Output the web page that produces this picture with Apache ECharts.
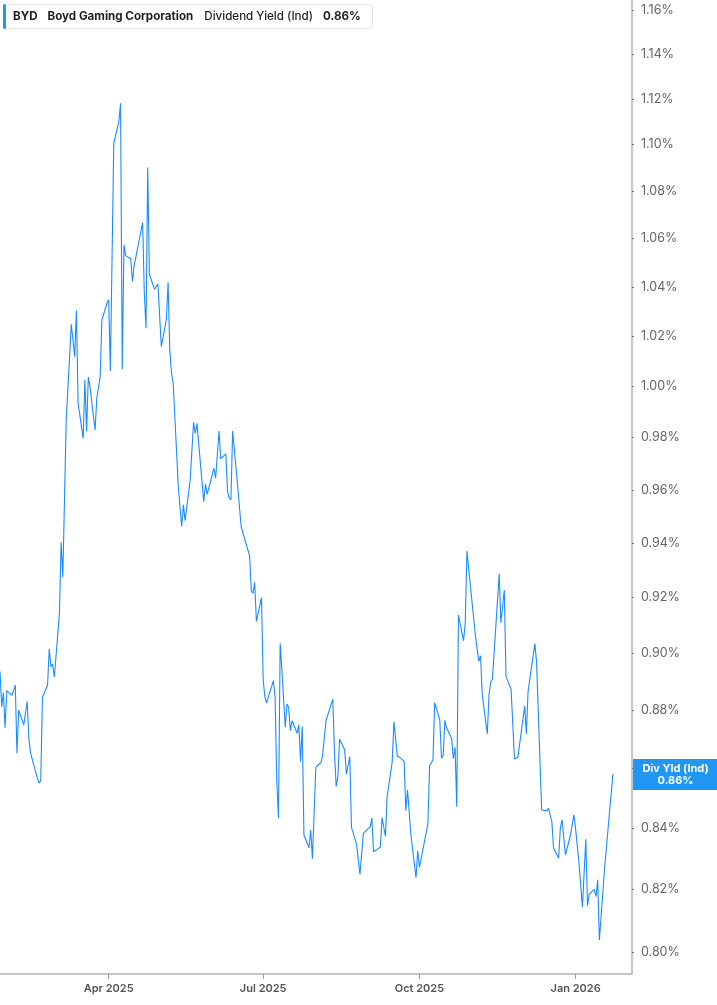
<!DOCTYPE html>
<html>
<head>
<meta charset="utf-8">
<script src="https://cdn.jsdelivr.net/npm/echarts@6/dist/echarts.min.js"></script>
<style>
  html, body { margin: 0; padding: 0; background: #fff; }
  #chart { width: 717px; height: 1005px; }
</style>
</head>
<body>
<div id="chart"></div>
<script>
const tickerSymbol = 'BYD';
const companyName = 'Boyd Gaming Corporation';
const metricName = 'Dividend Yield (Ind)';
const metricShort = 'Div Yld (Ind)';

const dates = [
  '2025-01-27','2025-01-28','2025-01-29','2025-01-30','2025-01-31','2025-02-03','2025-02-05','2025-02-06','2025-02-07','2025-02-10',
  '2025-02-12','2025-02-13','2025-02-14','2025-02-18','2025-02-19','2025-02-20','2025-02-21','2025-02-24','2025-02-25','2025-02-26',
  '2025-02-27','2025-02-28','2025-03-03','2025-03-04','2025-03-05','2025-03-07','2025-03-10','2025-03-12','2025-03-13','2025-03-14',
  '2025-03-17','2025-03-18','2025-03-19','2025-03-20','2025-03-21','2025-03-24','2025-03-25','2025-03-26','2025-03-27','2025-03-28',
  '2025-03-31','2025-04-01','2025-04-02','2025-04-04','2025-04-07','2025-04-08','2025-04-09','2025-04-10','2025-04-11','2025-04-14',
  '2025-04-15','2025-04-16','2025-04-21','2025-04-22','2025-04-23','2025-04-24','2025-04-25','2025-04-28','2025-04-30','2025-05-01',
  '2025-05-02','2025-05-05','2025-05-06','2025-05-07','2025-05-08','2025-05-09','2025-05-12','2025-05-14','2025-05-15','2025-05-16',
  '2025-05-19','2025-05-21','2025-05-22','2025-05-23','2025-05-27','2025-05-28','2025-05-29','2025-06-02','2025-06-03','2025-06-05',
  '2025-06-06','2025-06-09','2025-06-10','2025-06-11','2025-06-12','2025-06-13','2025-06-16','2025-06-18','2025-06-23','2025-06-24',
  '2025-06-25','2025-06-26','2025-06-27','2025-06-30','2025-07-01','2025-07-02','2025-07-03','2025-07-07','2025-07-08','2025-07-09',
  '2025-07-10','2025-07-11','2025-07-12','2025-07-14','2025-07-15','2025-07-16','2025-07-17','2025-07-18','2025-07-21','2025-07-22',
  '2025-07-23','2025-07-24','2025-07-25','2025-07-28','2025-07-29','2025-07-30','2025-08-01','2025-08-04','2025-08-05','2025-08-06',
  '2025-08-07','2025-08-11','2025-08-12','2025-08-13','2025-08-14','2025-08-15','2025-08-18','2025-08-19','2025-08-21','2025-08-22',
  '2025-08-25','2025-08-27','2025-08-29','2025-09-02','2025-09-03','2025-09-04','2025-09-08','2025-09-09','2025-09-10','2025-09-11',
  '2025-09-12','2025-09-15','2025-09-16','2025-09-18','2025-09-20','2025-09-22','2025-09-23','2025-09-24','2025-09-25','2025-09-26',
  '2025-09-29','2025-09-30','2025-10-01','2025-10-02','2025-10-06','2025-10-07','2025-10-08','2025-10-09','2025-10-10','2025-10-13',
  '2025-10-14','2025-10-15','2025-10-16','2025-10-17','2025-10-20','2025-10-21','2025-10-22','2025-10-23','2025-10-24','2025-10-27',
  '2025-10-28','2025-10-29','2025-11-03','2025-11-04','2025-11-05','2025-11-06','2025-11-07','2025-11-10','2025-11-11','2025-11-12',
  '2025-11-13','2025-11-17','2025-11-18','2025-11-20','2025-11-21','2025-11-24','2025-11-26','2025-11-28','2025-12-02','2025-12-03',
  '2025-12-04','2025-12-08','2025-12-09','2025-12-12','2025-12-15','2025-12-16','2025-12-18','2025-12-19','2025-12-22','2025-12-23',
  '2025-12-24','2025-12-26','2025-12-29','2025-12-31','2026-01-01','2026-01-03','2026-01-05','2026-01-07','2026-01-08','2026-01-09',
  '2026-01-12','2026-01-13','2026-01-14','2026-01-15','2026-01-18','2026-01-21','2026-01-22','2026-01-23'
];

const yieldPct = [
  0.8936,0.8813,0.8862,0.8740,0.8869,0.8852,0.8888,0.8653,0.8801,0.8750,
  0.8831,0.8704,0.8653,0.8568,0.8551,0.8560,0.8846,0.8888,0.9016,0.8953,
  0.8962,0.8916,0.9144,0.9403,0.9275,0.9868,1.0248,1.0118,1.0302,0.9934,
  0.9797,1.0025,0.9823,1.0036,0.9998,0.9829,0.9953,0.9949,1.0038,1.0265,
  1.0333,1.0347,1.0061,1.1006,1.1101,1.1181,1.0068,1.0573,1.0529,1.0516,
  1.0422,1.0488,1.0667,1.0374,1.0232,1.0901,1.0452,1.0390,1.0412,1.0408,
  1.0158,1.0268,1.0419,1.0145,1.0052,1.0012,0.9612,0.9462,0.9543,0.9484,
  0.9637,0.9859,0.9816,0.9855,0.9555,0.9622,0.9583,0.9682,0.9644,0.9825,
  0.9718,0.9737,0.9593,0.9570,0.9562,0.9825,0.9612,0.9462,0.9353,0.9225,
  0.9216,0.9256,0.9114,0.9200,0.8907,0.8848,0.8825,0.8904,0.8848,0.8562,
  0.8434,0.9036,0.8942,0.8742,0.8822,0.8811,0.8730,0.8764,0.8721,0.8750,
  0.8624,0.8744,0.8378,0.8336,0.8394,0.8300,0.8605,0.8621,0.8645,0.8644,
  0.8765,0.8839,0.8653,0.8540,0.8573,0.8701,0.8664,0.8581,0.8641,0.8403,
  0.8347,0.8249,0.8384,0.8405,0.8434,0.8323,0.8338,0.8436,0.8441,0.8373,
  0.8506,0.8624,0.8761,0.8644,0.8636,0.8624,0.8459,0.8529,0.8523,0.8378,
  0.8238,0.8326,0.8272,0.8272,0.8414,0.8609,0.8612,0.8630,0.8827,0.8768,
  0.8636,0.8644,0.8766,0.8740,0.8703,0.8635,0.8673,0.8472,0.9137,0.9045,
  0.9108,0.9371,0.9062,0.9066,0.8972,0.8992,0.8856,0.8719,0.8854,0.8899,
  0.8909,0.9287,0.9110,0.9228,0.8918,0.8874,0.8633,0.8639,0.8815,0.8719,
  0.8866,0.9035,0.8971,0.8461,0.8458,0.8467,0.8422,0.8335,0.8302,0.8400,
  0.8428,0.8313,0.8378,0.8445,0.8398,0.8285,0.8143,0.8364,0.8148,0.8184,
  0.8200,0.8177,0.8231,0.8038,0.8264,0.8456,0.8461,0.8582
];

const yTickValues = [0.80,0.82,0.84,0.86,0.88,0.90,0.92,0.94,0.96,0.98,1.00,1.02,1.04,1.06,1.08,1.10,1.12,1.14,1.16];
const xTickDates = ['2025-04-01','2025-07-01','2025-10-01','2026-01-01'];
const xRange = ['2025-01-27T00:00:00', '2026-02-03T05:00:00'];
const yRange = [0.7931, 1.1646];

const monthNames = ['Jan','Feb','Mar','Apr','May','Jun','Jul','Aug','Sep','Oct','Nov','Dec'];
const parseT = s => {
  const p = s.split(/[-T:]/).map(Number);
  return Date.UTC(p[0], p[1] - 1, p[2], p[3] || 0, p[4] || 0);
};
const lastValue = yieldPct[yieldPct.length - 1];
const lastText = lastValue.toFixed(2) + '%';

const FONT = 'Inter, "Noto Sans", sans-serif';
const LINE_COLOR = '#1a8cff';
const BOX_COLOR = '#2196f3';
const TS = 11.6;

const chart = echarts.init(document.getElementById('chart'), null, { renderer: 'canvas' });

chart.setOption({
  animation: false,
  textStyle: { fontFamily: FONT },
  title: {
    left: 3,
    top: 4,
    padding: [0, 12, 0, 0],
    backgroundColor: '#fff',
    borderColor: '#e4e4e4',
    borderWidth: 1,
    borderRadius: 4,
    text: '{bar|}{sym|' + tickerSymbol + '}{nm|' + companyName + '}{mt|' + metricName + '}{val|' + lastText + '}',
    textStyle: {
      fontFamily: FONT,
      rich: {
        bar: { width: 3, height: 25, backgroundColor: BOX_COLOR, borderRadius: 2 },
        sym: { fontFamily: FONT, fontSize: TS, fontWeight: 'bold', color: '#1f1f1f', padding: [0, 10, 0, 7], lineHeight: 25 },
        nm: { fontFamily: FONT, fontSize: TS, fontWeight: 'bold', color: '#1f1f1f', padding: [0, 11, 0, 0], lineHeight: 25 },
        mt: { fontFamily: FONT, fontSize: TS, fontWeight: 500, color: '#1f1f1f', padding: [0, 10, 0, 0], lineHeight: 25 },
        val: { fontFamily: FONT, fontSize: TS, fontWeight: 'bold', color: '#1f1f1f', lineHeight: 25 }
      }
    }
  },
  grid: { left: 0, right: 85, top: 0, bottom: 31, containLabel: false },
  xAxis: {
    type: 'value',
    min: parseT(xRange[0]),
    max: parseT(xRange[1]),
    splitLine: { show: false },
    axisLine: { show: true, onZero: false, lineStyle: { color: '#b3b3b3', width: 1.5 } },
    axisTick: { show: true, length: 5, lineStyle: { color: '#999' }, customValues: xTickDates.map(parseT) },
    axisLabel: {
      customValues: xTickDates.map(parseT),
      margin: 9,
      color: '#555',
      fontSize: 11,
      fontWeight: 600,
      fontFamily: FONT,
      formatter: v => { const d = new Date(v); return monthNames[d.getUTCMonth()] + ' ' + d.getUTCFullYear(); }
    }
  },
  yAxis: {
    type: 'value',
    position: 'right',
    min: Math.log(yRange[0]),
    max: Math.log(yRange[1]),
    splitLine: { show: false },
    axisLine: { show: true, onZero: false, lineStyle: { color: '#b3b3b3', width: 1.5 } },
    axisTick: { show: true, length: 2, lineStyle: { color: '#777' }, customValues: yTickValues.map(Math.log) },
    axisLabel: {
      customValues: yTickValues.map(Math.log),
      margin: 9,
      color: '#666',
      fontSize: 12.5,
      fontFamily: FONT,
      formatter: v => Math.exp(v).toFixed(2) + '%'
    }
  },
  series: [{
    type: 'line',
    data: dates.map((d, i) => [parseT(d), Math.log(yieldPct[i])]),
    showSymbol: false,
    symbol: 'none',
    lineStyle: { color: LINE_COLOR, width: 1.1 },
    markLine: {
      silent: true,
      symbol: ['none', 'none'],
      lineStyle: { color: 'rgba(0,0,0,0)', width: 0 },
      data: [{ yAxis: Math.log(lastValue) }],
      label: {
        show: true,
        position: 'end',
        distance: 1,
        verticalAlign: 'middle',
        offset: [0, 8],
        color: '#fff',
        formatter: '{a|' + metricShort + '}\n{a|' + lastText + '}',
        backgroundColor: BOX_COLOR,
        padding: [4, 0, 3, 0],
        rich: {
          a: { width: 85, align: 'center', color: '#fff', fontSize: 11, fontWeight: 'bold', fontFamily: FONT, lineHeight: 12 }
        }
      }
    }
  }]
});
</script>
</body>
</html>
